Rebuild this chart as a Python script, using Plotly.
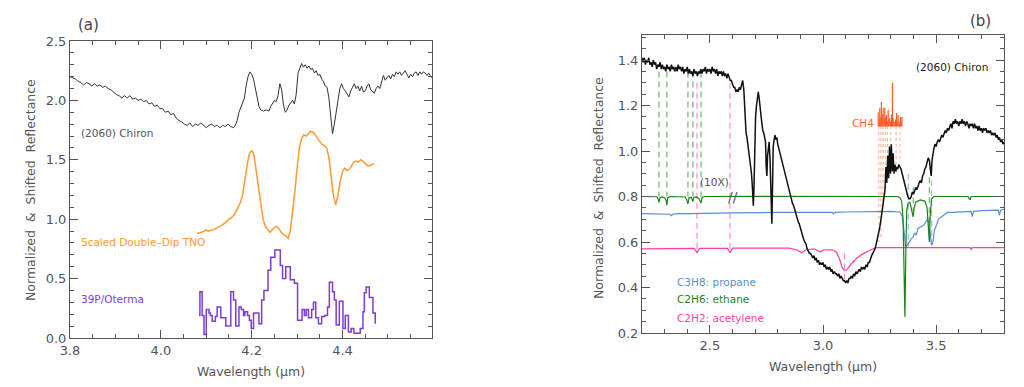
import plotly.graph_objects as go

# ---------------- Panel (a) data ----------------
chiron_a_wl = [
    3.800, 3.806, 3.812, 3.818, 3.824, 3.830, 3.836, 3.842, 3.848, 3.854,
    3.860, 3.866, 3.872, 3.878, 3.884, 3.890, 3.896, 3.902, 3.908, 3.914,
    3.920, 3.926, 3.932, 3.938, 3.944, 3.950, 3.956, 3.962, 3.968, 3.974,
    3.980, 3.986, 3.992, 3.998, 4.004, 4.010, 4.016, 4.022, 4.028, 4.034,
    4.040, 4.046, 4.052, 4.058, 4.064, 4.070, 4.076, 4.082, 4.088, 4.094,
    4.100, 4.106, 4.112, 4.118, 4.124, 4.130, 4.136, 4.142, 4.148, 4.154,
    4.160, 4.164, 4.168, 4.172, 4.176, 4.180, 4.184, 4.188, 4.192, 4.196,
    4.200, 4.204, 4.208, 4.212, 4.216, 4.220, 4.226, 4.232, 4.238, 4.242,
    4.246, 4.250, 4.254, 4.258, 4.262, 4.266, 4.270, 4.274, 4.278, 4.282,
    4.286, 4.290, 4.294, 4.298, 4.302, 4.306, 4.310, 4.314, 4.318, 4.322,
    4.326, 4.330, 4.334, 4.338, 4.342, 4.346, 4.350, 4.354, 4.358, 4.362,
    4.366, 4.370, 4.374, 4.378, 4.382, 4.386, 4.390, 4.394, 4.398, 4.402,
    4.406, 4.410, 4.414, 4.418, 4.422, 4.426, 4.430, 4.434, 4.438, 4.442,
    4.446, 4.450, 4.454, 4.458, 4.462, 4.466, 4.470, 4.474, 4.478, 4.482,
    4.486, 4.490, 4.494, 4.498, 4.502, 4.506, 4.510, 4.514, 4.518, 4.522,
    4.526, 4.530, 4.534, 4.538, 4.542, 4.546, 4.550, 4.554, 4.558, 4.562,
    4.566, 4.570, 4.574, 4.578, 4.582, 4.586, 4.590, 4.594, 4.598]
chiron_a_val = [
    2.20, 2.19, 2.18, 2.16, 2.15, 2.13, 2.15, 2.14, 2.12, 2.14,
    2.12, 2.13, 2.11, 2.12, 2.10, 2.09, 2.07, 2.05, 2.04, 2.02,
    2.04, 2.02, 2.04, 2.01, 2.02, 2.00, 2.01, 1.99, 2.00, 1.97,
    1.98, 1.95, 1.96, 1.93, 1.93, 1.90, 1.91, 1.88, 1.89, 1.85,
    1.83, 1.82, 1.80, 1.79, 1.81, 1.78, 1.80, 1.79, 1.81, 1.79,
    1.77, 1.79, 1.80, 1.78, 1.79, 1.77, 1.79, 1.78, 1.80, 1.78,
    1.77, 1.79, 1.83, 1.90, 1.94, 1.97, 2.02, 2.13, 2.20, 2.24,
    2.22, 2.18, 2.11, 2.03, 1.95, 1.92, 1.91, 1.92, 1.91, 1.95,
    1.97, 2.00, 1.99, 2.04, 2.14, 2.09, 1.96, 1.90, 1.92, 1.96,
    1.98, 2.00, 1.97, 2.05, 2.23, 2.27, 2.31, 2.28, 2.30, 2.27,
    2.29, 2.26, 2.27, 2.23, 2.25, 2.21, 2.22, 2.18, 2.16, 2.12,
    2.11, 2.02, 1.88, 1.72, 1.80, 1.90, 2.02, 2.10, 2.14, 2.10,
    2.08, 2.05, 2.03, 2.08, 2.11, 2.14, 2.10, 2.12, 2.08, 2.12,
    2.07, 2.08, 2.12, 2.14, 2.09, 2.07, 2.06, 2.10, 2.12, 2.10,
    2.16, 2.21, 2.17, 2.19, 2.21, 2.18, 2.22, 2.20, 2.24, 2.22,
    2.24, 2.21, 2.23, 2.25, 2.22, 2.19, 2.22, 2.20, 2.23, 2.24,
    2.21, 2.24, 2.22, 2.24, 2.23, 2.21, 2.23, 2.20, 2.19]

tno_wl = [
    4.080, 4.090, 4.100, 4.105, 4.115, 4.125, 4.135, 4.145, 4.150, 4.155,
    4.160, 4.165, 4.170, 4.175, 4.180, 4.185, 4.190, 4.195, 4.200, 4.205,
    4.210, 4.215, 4.220, 4.225, 4.230, 4.235, 4.240, 4.245, 4.250, 4.255,
    4.260, 4.265, 4.270, 4.275, 4.280, 4.285, 4.290, 4.295, 4.300, 4.305,
    4.310, 4.315, 4.320, 4.325, 4.330, 4.335, 4.340, 4.345, 4.350, 4.355,
    4.360, 4.365, 4.370, 4.375, 4.380, 4.385, 4.390, 4.395, 4.400, 4.405,
    4.410, 4.415, 4.420, 4.425, 4.430, 4.435, 4.440, 4.445, 4.450, 4.455,
    4.460, 4.465, 4.470]
tno_val = [
    0.88, 0.89, 0.91, 0.90, 0.91, 0.93, 0.95, 0.98, 1.00, 1.01,
    1.03, 1.06, 1.10, 1.14, 1.20, 1.34, 1.46, 1.55, 1.58, 1.54,
    1.42, 1.27, 1.13, 1.00, 0.94, 0.91, 0.89, 0.91, 0.93, 0.94,
    0.92, 0.89, 0.87, 0.86, 0.84, 0.90, 1.05, 1.23, 1.43, 1.60,
    1.68, 1.71, 1.70, 1.72, 1.74, 1.73, 1.71, 1.68, 1.65, 1.63,
    1.62, 1.60, 1.52, 1.36, 1.20, 1.12, 1.20, 1.32, 1.40, 1.43,
    1.41, 1.42, 1.45, 1.48, 1.49, 1.48, 1.50, 1.49, 1.47, 1.45,
    1.45, 1.46, 1.47]

oterma_wl = [
    4.084, 4.086, 4.091, 4.095, 4.100, 4.106, 4.109, 4.113, 4.120, 4.124,
    4.132, 4.143, 4.154, 4.160, 4.165, 4.172, 4.177, 4.182, 4.185, 4.191,
    4.195, 4.199, 4.204, 4.216, 4.222, 4.227, 4.236, 4.242, 4.251, 4.263,
    4.268, 4.275, 4.285, 4.294, 4.301, 4.311, 4.316, 4.320, 4.325, 4.332,
    4.336, 4.341, 4.347, 4.354, 4.361, 4.367, 4.371, 4.378, 4.382, 4.386,
    4.393, 4.401, 4.406, 4.413, 4.419, 4.425, 4.439, 4.445, 4.448, 4.452,
    4.459, 4.467, 4.472]
oterma_val = [
    0.19, 0.39, 0.19, 0.03, 0.24, 0.21, 0.19, 0.14, 0.18, 0.26,
    0.17, 0.10, 0.39, 0.32, 0.10, 0.26, 0.24, 0.19, 0.22, 0.19,
    0.15, 0.08, 0.21, 0.12, 0.32, 0.40, 0.57, 0.68, 0.74, 0.61,
    0.50, 0.60, 0.49, 0.46, 0.15, 0.24, 0.19, 0.24, 0.17, 0.24,
    0.30, 0.17, 0.12, 0.18, 0.19, 0.26, 0.47, 0.39, 0.32, 0.11,
    0.31, 0.08, 0.19, 0.05, 0.08, 0.04, 0.08, 0.22, 0.38, 0.43,
    0.34, 0.21, 0.12]

a_xticks = [3.8, 4.0, 4.2, 4.4]
a_yticks = [0.0, 0.5, 1.0, 1.5, 2.0, 2.5]

# ---------------- Panel (b) data ----------------
chiron_b_wl = [
    2.200, 2.205, 2.210, 2.215, 2.220, 2.225, 2.230, 2.235, 2.240, 2.245,
    2.250, 2.255, 2.260, 2.265, 2.270, 2.275, 2.280, 2.285, 2.290, 2.295,
    2.300, 2.305, 2.310, 2.315, 2.320, 2.325, 2.330, 2.335, 2.340, 2.345,
    2.350, 2.355, 2.360, 2.365, 2.370, 2.375, 2.380, 2.385, 2.390, 2.395,
    2.400, 2.405, 2.410, 2.415, 2.420, 2.425, 2.430, 2.435, 2.440, 2.445,
    2.450, 2.455, 2.460, 2.465, 2.470, 2.475, 2.480, 2.485, 2.490, 2.495,
    2.500, 2.505, 2.510, 2.515, 2.520, 2.525, 2.530, 2.535, 2.540, 2.545,
    2.550, 2.555, 2.560, 2.565, 2.570, 2.575, 2.580, 2.585, 2.590, 2.595,
    2.600, 2.605, 2.610, 2.615, 2.620, 2.625, 2.630, 2.635, 2.640, 2.645,
    2.650, 2.655, 2.660, 2.664, 2.668, 2.672, 2.676, 2.680, 2.684, 2.688,
    2.692, 2.695, 2.698, 2.702, 2.706, 2.710, 2.714, 2.718, 2.722, 2.726,
    2.730, 2.734, 2.738, 2.742, 2.746, 2.749, 2.752, 2.755, 2.758, 2.762,
    2.766, 2.770, 2.774, 2.777, 2.780, 2.784, 2.788, 2.792, 2.796, 2.800,
    2.805, 2.810, 2.815, 2.820, 2.825, 2.830, 2.835, 2.840, 2.845, 2.850,
    2.855, 2.860, 2.865, 2.870, 2.875, 2.880, 2.885, 2.890, 2.895, 2.900,
    2.905, 2.910, 2.915, 2.920, 2.925, 2.930, 2.935, 2.940, 2.945, 2.950,
    2.955, 2.960, 2.965, 2.970, 2.975, 2.980, 2.985, 2.990, 2.995, 3.000,
    3.005, 3.010, 3.015, 3.020, 3.025, 3.030, 3.035, 3.040, 3.045, 3.050,
    3.055, 3.060, 3.065, 3.070, 3.075, 3.080, 3.085, 3.090, 3.095, 3.100,
    3.105, 3.110, 3.115, 3.120, 3.125, 3.130, 3.135, 3.140, 3.145, 3.150,
    3.155, 3.160, 3.165, 3.170, 3.175, 3.180, 3.185, 3.190, 3.195, 3.200,
    3.205, 3.210, 3.215, 3.220, 3.225, 3.230, 3.235, 3.240, 3.245, 3.250,
    3.255, 3.260, 3.265, 3.270,
    3.274, 3.278, 3.282, 3.286, 3.290, 3.294, 3.298, 3.302, 3.306, 3.310,
    3.314, 3.318, 3.322, 3.326, 3.330,
    3.335, 3.340, 3.345, 3.350, 3.355, 3.360, 3.365, 3.370, 3.375, 3.380,
    3.385, 3.390, 3.395, 3.400, 3.405, 3.410, 3.415, 3.420, 3.425, 3.430,
    3.435, 3.440, 3.445, 3.450, 3.455, 3.460, 3.465, 3.470,
    3.475, 3.478, 3.482, 3.486, 3.490,
    3.495, 3.500, 3.505, 3.510, 3.515, 3.520, 3.525, 3.530, 3.535, 3.540,
    3.545, 3.550, 3.555, 3.560, 3.565, 3.570, 3.575, 3.580, 3.585, 3.590,
    3.595, 3.600, 3.605, 3.610, 3.615, 3.620, 3.625, 3.630, 3.635, 3.640,
    3.645, 3.650, 3.655, 3.660, 3.665, 3.670, 3.675, 3.680, 3.685, 3.690,
    3.695, 3.700, 3.705, 3.710, 3.715, 3.720, 3.725, 3.730, 3.735, 3.740,
    3.745, 3.750, 3.755, 3.760, 3.765, 3.770, 3.775, 3.780, 3.785, 3.790,
    3.795, 3.800]
chiron_b_val = [
    1.41, 1.39, 1.41, 1.38, 1.40, 1.39, 1.41, 1.38, 1.39, 1.37,
    1.40, 1.38, 1.39, 1.36, 1.38, 1.37, 1.39, 1.36, 1.38, 1.36,
    1.37, 1.35, 1.38, 1.36, 1.37, 1.35, 1.38, 1.36, 1.37, 1.35,
    1.37, 1.35, 1.38, 1.36, 1.37, 1.35, 1.37, 1.34, 1.36, 1.35,
    1.37, 1.34, 1.36, 1.34, 1.35, 1.33, 1.36, 1.34, 1.35, 1.33,
    1.35, 1.34, 1.36, 1.34, 1.36, 1.35, 1.37, 1.34, 1.36, 1.35,
    1.36, 1.34, 1.37, 1.35, 1.36, 1.34, 1.36, 1.33, 1.35, 1.34,
    1.35, 1.33, 1.35, 1.33, 1.34, 1.32, 1.34, 1.32, 1.31, 1.31,
    1.29, 1.28, 1.28, 1.26, 1.27, 1.26, 1.28, 1.27, 1.29, 1.31,
    1.27, 1.15, 1.08, 1.06, 1.03, 0.99, 0.97, 0.94, 0.90, 0.84,
    0.76, 0.84, 1.02, 1.15, 1.20, 1.23, 1.26, 1.23, 1.18, 1.15,
    1.12, 1.09, 1.08, 1.06, 1.04, 0.93, 0.89, 0.98, 1.02, 1.04,
    0.96, 0.80, 0.68, 0.85, 1.02, 1.05, 1.07, 1.05, 1.06, 1.03,
    1.01, 0.99, 0.97, 0.94, 0.92, 0.90, 0.88, 0.87, 0.85, 0.83,
    0.81, 0.79, 0.77, 0.76, 0.74, 0.72, 0.71, 0.69, 0.68, 0.66,
    0.64, 0.62, 0.61, 0.60, 0.59, 0.57, 0.56, 0.55, 0.55, 0.54,
    0.53, 0.54, 0.52, 0.53, 0.51, 0.52, 0.50, 0.51, 0.50, 0.51,
    0.49, 0.50, 0.48, 0.49, 0.48, 0.49, 0.47, 0.48, 0.46, 0.47,
    0.46, 0.46, 0.45, 0.46, 0.44, 0.45, 0.44, 0.43, 0.43, 0.42,
    0.43, 0.42, 0.44, 0.44, 0.45, 0.44, 0.46, 0.45, 0.47, 0.46,
    0.47, 0.48, 0.47, 0.49, 0.48, 0.49, 0.48, 0.50, 0.49, 0.51,
    0.51, 0.53, 0.54, 0.55, 0.56, 0.57, 0.59, 0.61, 0.63, 0.66,
    0.69, 0.73, 0.76, 0.80,
    0.83, 0.93, 0.86, 0.98, 0.88, 1.02, 0.90, 1.03, 0.91, 0.99,
    0.90, 0.94, 0.91, 0.93, 0.92,
    0.94, 0.93, 0.92, 0.90, 0.88, 0.85, 0.83, 0.82, 0.80, 0.79,
    0.79, 0.80, 0.82, 0.81, 0.83, 0.84, 0.83, 0.85, 0.86, 0.87,
    0.86, 0.89, 0.90, 0.92, 0.93, 0.95, 0.97, 0.96,
    0.92, 0.89, 0.96, 1.00, 1.01,
    1.03, 1.02, 1.04, 1.05, 1.04, 1.06, 1.07, 1.06, 1.08, 1.09,
    1.08, 1.10, 1.09, 1.11, 1.12, 1.10, 1.13, 1.12, 1.14, 1.12,
    1.13, 1.11, 1.13, 1.12, 1.14, 1.12, 1.13, 1.11, 1.13, 1.12,
    1.10, 1.12, 1.11, 1.12, 1.10, 1.12, 1.10, 1.11, 1.09, 1.11,
    1.09, 1.10, 1.08, 1.10, 1.09, 1.10, 1.08, 1.09, 1.08, 1.09,
    1.07, 1.08, 1.07, 1.08, 1.06, 1.07, 1.05, 1.06, 1.04, 1.05,
    1.03, 1.04]

propane_wl = [
    2.200, 2.300, 2.325, 2.330, 2.336, 2.345, 2.450, 2.600, 2.800, 3.000,
    3.040, 3.046, 3.052, 3.100, 3.300, 3.340, 3.350, 3.358, 3.365, 3.372,
    3.380, 3.390, 3.398, 3.405, 3.412, 3.420, 3.429, 3.438, 3.446, 3.455,
    3.462, 3.468, 3.474, 3.480, 3.486, 3.492, 3.500, 3.510, 3.530, 3.550,
    3.575, 3.620, 3.655, 3.660, 3.665, 3.700, 3.740, 3.775, 3.780, 3.785,
    3.800]
propane_val = [
    0.725, 0.722, 0.722, 0.716, 0.722, 0.724, 0.727, 0.728, 0.730, 0.730,
    0.730, 0.724, 0.730, 0.732, 0.735, 0.732, 0.715, 0.650, 0.575, 0.585,
    0.600, 0.615, 0.620, 0.640, 0.630, 0.660, 0.665, 0.672, 0.675, 0.690,
    0.700, 0.680, 0.620, 0.585, 0.600, 0.650, 0.670, 0.700, 0.715, 0.730,
    0.730, 0.733, 0.735, 0.712, 0.735, 0.738, 0.740, 0.740, 0.718, 0.740,
    0.745]

ethane_wl = [
    2.200, 2.265, 2.270, 2.275, 2.280, 2.290, 2.300, 2.306, 2.310, 2.314,
    2.325, 2.390, 2.398, 2.403, 2.408, 2.418, 2.422, 2.425, 2.429, 2.440,
    2.452, 2.457, 2.461, 2.466, 2.480, 2.700, 2.900, 3.100, 3.250, 3.300,
    3.330, 3.340, 3.348, 3.354, 3.358, 3.362, 3.366, 3.370, 3.376, 3.384,
    3.392, 3.398, 3.403, 3.410, 3.430, 3.450, 3.460, 3.466, 3.470, 3.474,
    3.480, 3.490, 3.550, 3.640, 3.650, 3.655, 3.665, 3.800]
ethane_val = [
    0.800, 0.799, 0.792, 0.774, 0.795, 0.798, 0.795, 0.785, 0.762, 0.795,
    0.800, 0.798, 0.785, 0.768, 0.795, 0.796, 0.787, 0.778, 0.797, 0.798,
    0.790, 0.781, 0.772, 0.797, 0.800, 0.801, 0.801, 0.800, 0.803, 0.803,
    0.800, 0.795, 0.780, 0.700, 0.450, 0.270, 0.550, 0.740, 0.770, 0.775,
    0.740, 0.710, 0.750, 0.775, 0.785, 0.780, 0.750, 0.620, 0.600, 0.720,
    0.790, 0.800, 0.800, 0.800, 0.785, 0.800, 0.800, 0.800]

acetylene_wl = [
    2.200, 2.430, 2.437, 2.443, 2.449, 2.455, 2.578, 2.584, 2.589, 2.594,
    2.600, 2.850, 2.885, 2.906, 2.925, 2.960, 2.980, 2.990, 3.000, 3.040,
    3.060, 3.075, 3.085, 3.095, 3.105, 3.115, 3.130, 3.150, 3.180, 3.210,
    3.235, 3.300, 3.650, 3.655, 3.660, 3.800]
acetylene_val = [
    0.570, 0.572, 0.562, 0.553, 0.562, 0.572, 0.572, 0.562, 0.553, 0.562,
    0.573, 0.573, 0.565, 0.553, 0.566, 0.570, 0.561, 0.556, 0.565, 0.566,
    0.555, 0.520, 0.487, 0.475, 0.477, 0.490, 0.510, 0.530, 0.550, 0.565,
    0.575, 0.575, 0.575, 0.566, 0.575, 0.575]

# band markers (vertical dashed lines): wavelength, top, bottom
ethane_mark_wl = [2.275, 2.310, 2.403, 2.425, 2.461, 3.399, 3.470]
ethane_mark_top = [1.35, 1.35, 1.35, 1.35, 1.35, 0.84, 0.885]
ethane_mark_bot = [0.80, 0.80, 0.80, 0.80, 0.80, 0.73, 0.61]
acet_mark_wl = [2.443, 2.589, 3.095]
acet_mark_top = [1.30, 1.30, 0.55]
acet_mark_bot = [0.57, 0.57, 0.43]
prop_mark_wl = [3.377, 3.480]
prop_mark_top = [0.90, 0.915]
prop_mark_bot = [0.58, 0.59]

# CH4 line spectrum
ch4_wl = [
    3.244, 3.248, 3.251, 3.255, 3.258, 3.262, 3.266, 3.270, 3.273, 3.277,
    3.280, 3.284, 3.288, 3.291, 3.295, 3.299, 3.303, 3.307, 3.310, 3.314,
    3.318, 3.321, 3.325, 3.328, 3.332, 3.336, 3.339, 3.343, 3.346, 3.349]
ch4_top = [
    1.17, 1.14, 1.19, 1.15, 1.215, 1.16, 1.19, 1.14, 1.19, 1.15,
    1.158, 1.13, 1.18, 1.14, 1.145, 1.13, 1.16, 1.30, 1.145, 1.13,
    1.128, 1.14, 1.167, 1.13, 1.158, 1.13, 1.12, 1.15, 1.13, 1.15]
ch4_base = 1.11
ch4_dot_wl = [3.247, 3.256, 3.265, 3.275, 3.285, 3.300, 3.323, 3.340]
ch4_dot_bot = [0.60, 0.62, 0.74, 0.82, 0.90, 0.95, 0.92, 0.95]

b_xticks = [2.5, 3.0, 3.5]
b_yticks = [0.2, 0.4, 0.6, 0.8, 1.0, 1.2, 1.4]

# ---------------- styling ----------------
FONT = "DejaVu Sans"
GRAY = "#555555"
C_CHIRON_A = "#333333"
C_TNO = "#FF9933"
C_OTERMA = "#7B3FD1"
C_CHIRON_B = "#111111"
C_PROP = "#5B8FC9"
C_ETH = "#1F7F1F"
C_ACET = "#FF3FA4"
C_CH4 = "#FF5A2A"

W, H = 1024, 387


def segs(xs, tops, bots):
    X, Y = [], []
    for x, t, b in zip(xs, tops, bots):
        X += [x, x, None]
        Y += [t, b, None]
    return X, Y


fig = go.Figure()

# Panel a
fig.add_trace(go.Scatter(x=chiron_a_wl, y=chiron_a_val, mode="lines",
                         line=dict(color=C_CHIRON_A, width=1), xaxis="x", yaxis="y"))
fig.add_trace(go.Scatter(x=tno_wl, y=tno_val, mode="lines",
                         line=dict(color=C_TNO, width=1.5), xaxis="x", yaxis="y"))
fig.add_trace(go.Scatter(x=oterma_wl, y=oterma_val, mode="lines",
                         line=dict(color=C_OTERMA, width=1.5, shape="hv"), xaxis="x", yaxis="y"))

# Panel b: markers first (beneath)
X, Y = segs(ch4_dot_wl, [ch4_base] * len(ch4_dot_wl), ch4_dot_bot)
fig.add_trace(go.Scatter(x=X, y=Y, mode="lines", line=dict(color="#FFAA88", width=1, dash="dot"),
                         xaxis="x2", yaxis="y2"))
X, Y = segs(ethane_mark_wl, ethane_mark_top, ethane_mark_bot)
fig.add_trace(go.Scatter(x=X, y=Y, mode="lines", line=dict(color="#6FB56F", width=1.2, dash="6px,4px"),
                         xaxis="x2", yaxis="y2"))
X, Y = segs(acet_mark_wl, acet_mark_top, acet_mark_bot)
fig.add_trace(go.Scatter(x=X, y=Y, mode="lines", line=dict(color="#FF8FC8", width=1.2, dash="6px,4px"),
                         xaxis="x2", yaxis="y2"))
X, Y = segs(prop_mark_wl, prop_mark_top, prop_mark_bot)
fig.add_trace(go.Scatter(x=X, y=Y, mode="lines", line=dict(color="#9DBCDD", width=1.2, dash="6px,4px"),
                         xaxis="x2", yaxis="y2"))

fig.add_trace(go.Scatter(x=acetylene_wl, y=acetylene_val, mode="lines",
                         line=dict(color=C_ACET, width=1.2), xaxis="x2", yaxis="y2"))
fig.add_trace(go.Scatter(x=propane_wl, y=propane_val, mode="lines",
                         line=dict(color=C_PROP, width=1.2), xaxis="x2", yaxis="y2"))
fig.add_trace(go.Scatter(x=ethane_wl, y=ethane_val, mode="lines",
                         line=dict(color=C_ETH, width=1.2), xaxis="x2", yaxis="y2"))
fig.add_trace(go.Scatter(x=chiron_b_wl, y=chiron_b_val, mode="lines",
                         line=dict(color=C_CHIRON_B, width=1.5), xaxis="x2", yaxis="y2"))

# CH4 bars
X, Y = segs(ch4_wl, ch4_top, [ch4_base] * len(ch4_wl))
fig.add_trace(go.Scatter(x=X, y=Y, mode="lines", line=dict(color=C_CH4, width=1.2),
                         xaxis="x2", yaxis="y2"))
fig.add_trace(go.Scatter(x=[ch4_wl[0], ch4_wl[-1]], y=[ch4_base, ch4_base], mode="lines",
                         line=dict(color=C_CH4, width=1), xaxis="x2", yaxis="y2"))

axis_common = dict(showline=True, linecolor=GRAY, linewidth=1, mirror="ticks",
                   ticks="inside", ticklen=8, tickwidth=1, tickcolor=GRAY,
                   showgrid=False, zeroline=False, automargin=False,
                   tickfont=dict(family=FONT, size=13, color=GRAY))

fig.update_layout(
    width=W, height=H,
    margin=dict(l=0, r=0, t=0, b=0, pad=0, autoexpand=False),
    paper_bgcolor="white", plot_bgcolor="white",
    showlegend=False, hovermode=False,
    font=dict(family=FONT, color=GRAY),
    xaxis=dict(domain=[70 / W, 432 / W], range=[3.8, 4.597], anchor="y",
               tickvals=a_xticks, ticktext=[f"{v:.1f}" for v in a_xticks],
               minor=dict(ticks="inside", ticklen=4, tickcolor=GRAY, dtick=0.05, tick0=3.8),
               **axis_common),
    yaxis=dict(domain=[1 - 338 / H, 1 - 41 / H], range=[0, 2.5], anchor="x",
               tickvals=a_yticks, ticktext=[f"{v:.1f}" for v in a_yticks],
               minor=dict(ticks="inside", ticklen=4, tickcolor=GRAY, dtick=0.1, tick0=0),
               **axis_common),
    xaxis2=dict(domain=[642 / W, 1004 / W], range=[2.2, 3.8], anchor="y2",
                tickvals=b_xticks, ticktext=[f"{v:.1f}" for v in b_xticks],
                minor=dict(ticks="inside", ticklen=4, tickcolor=GRAY, dtick=0.1, tick0=2.2),
                **axis_common),
    yaxis2=dict(domain=[1 - 333 / H, 1 - 35 / H], range=[0.2, 1.51], anchor="x2",
                tickvals=b_yticks, ticktext=[f"{v:.1f}" for v in b_yticks],
                minor=dict(ticks="inside", ticklen=4, tickcolor=GRAY, dtick=0.05, tick0=0.2),
                **axis_common),
)


def note(text, x, y, color=GRAY, size=11, xanchor="left", angle=0):
    fig.add_annotation(text=text, x=x / W, y=1 - y / H, xref="paper", yref="paper",
                       showarrow=False, xanchor=xanchor, yanchor="middle", textangle=angle,
                       font=dict(family=FONT, size=size, color=color))


# panel labels
note("(a)", 88, 25, color="#444444", size=15, xanchor="center")
note("(b)", 980, 21, color="#444444", size=15, xanchor="center")
# axis titles
note("Normalized  &  Shifted  Reflectance", 30, 190, size=12.5, xanchor="center", angle=-90)
note("Normalized  &  Shifted  Reflectance", 598, 188, size=12.5, xanchor="center", angle=-90)
note("Wavelength (\u03bcm)", 251, 371, size=12.5, xanchor="center")
note("Wavelength (\u03bcm)", 823, 366, size=12.5, xanchor="center")
# panel a labels
note("(2060) Chiron", 79, 133, color=GRAY, size=10.5)
note("Scaled Double\u2013Dip TNO", 79, 242, color=C_TNO, size=10.5)
note("39P/Oterma", 79, 299, color=C_OTERMA, size=10.5)
# panel b labels
note("(2060) Chiron", 990, 67, color="#222222", size=10.5, xanchor="right")
note("CH4", 850, 123, color="#FF6633", size=10.5)
note("(10X)", 698, 182, color=GRAY, size=10.5)
note("//", 733, 197, color=GRAY, size=14, xanchor="center")
note("C3H8: propane", 675, 282, color=C_PROP, size=10.5)
note("C2H6: ethane", 675, 299, color=C_ETH, size=10.5)
note("C2H2: acetylene", 675, 318, color=C_ACET, size=10.5)

fig.write_html("out.html", config={"displayModeBar": False, "staticPlot": True},
               post_script="document.body.style.margin='0';document.body.style.padding='0';")
